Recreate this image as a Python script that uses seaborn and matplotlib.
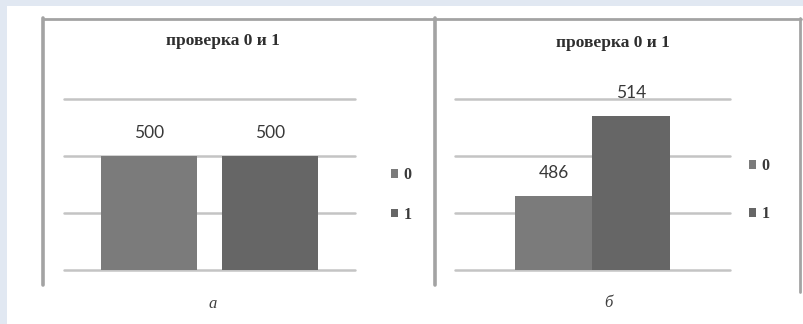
import pandas as pd
import matplotlib
matplotlib.use("Agg")
import matplotlib.pyplot as plt
import seaborn as sns
from matplotlib.lines import Line2D
from matplotlib.patches import Rectangle

# ---- data ----
chart_title = "проверка 0 и 1"
series = ["0", "1"]
values_a = [500, 500]
values_b = [486, 514]
panel_labels = ["а", "б"]
y_ticks = [460, 480, 500, 520]
bar_colors = ["#7b7b7b", "#666666"]

W, H = 804, 324
sns.set_theme(style="white")
plt.rcParams["font.family"] = ["Liberation Serif", "DejaVu Serif"]

fig = plt.figure(figsize=(W / 100, H / 100), dpi=100)
fig.patch.set_facecolor("#e1e8f2")


def fx(x):
    return x / W


def fy(y):
    return 1 - y / H


# white sheet
fig.add_artist(Rectangle((fx(7), 0), 1, fy(6), transform=fig.transFigure,
                         facecolor="white", edgecolor="none", zorder=0))

# frame lines
frame_col = "#a3a3a3"
for xs, ys, lw in [([43, 801], [18.5, 18.5], 2.0),
                   ([43.5, 43.5], [18, 285], 2.6),
                   ([435, 435], [18, 285], 2.6),
                   ([800, 800], [18, 292], 2.0)]:
    fig.add_artist(Line2D([fx(x) for x in xs], [fy(y) for y in ys],
                          transform=fig.transFigure, color=frame_col,
                          lw=lw, zorder=1))


def panel(values, x0, x1, width, gap, title_xy, legend_xy, legend_sp,
          label, label_xy):
    top, bot = 99, 270
    ax = fig.add_axes([fx(x0), fy(bot), fx(x1) - fx(x0), fy(top) - fy(bot)])
    df = pd.DataFrame({"group": ["g", "g"], "series": series, "value": values})
    sns.barplot(data=df, x="group", y="value", hue="series",
                palette=bar_colors, width=width, gap=gap, saturation=1,
                linewidth=0, ax=ax)
    ax.set_xlim(-0.5, 0.5)
    ax.set_ylim(y_ticks[0], y_ticks[-1])
    for t in y_ticks:
        ax.axhline(t, color="#c4c4c4", lw=1.8, zorder=0.5, clip_on=False)
    handles, labels = ax.get_legend_handles_labels()
    ax.get_legend().remove()
    ax.set(xlabel="", ylabel="", xticks=[], yticks=[])
    ax.set_axis_off()

    # value labels above each drawn bar
    for cont in ax.containers:
        for bar in cont:
            v = bar.get_height()
            ax.annotate(f"{v:.0f}", (bar.get_x() + bar.get_width() / 2, v),
                        xytext=(0, 16.5), textcoords="offset points",
                        ha="center", va="center", fontsize=12.5,
                        family="Lato", color="#383838",
                        annotation_clip=False)

    fig.text(fx(title_xy[0]), fy(title_xy[1]), chart_title, ha="center",
             va="center", fontsize=12.5, fontweight="bold", color="#2e2e2e")
    fig.text(fx(label_xy[0]), fy(label_xy[1]), label, ha="center",
             va="center", fontsize=12, style="italic", color="#404040")

    fig.legend(handles, labels, loc="center left",
               bbox_to_anchor=(fx(legend_xy[0]), fy(legend_xy[1])),
               bbox_transform=fig.transFigure, frameon=False,
               handlelength=0.45, handleheight=0.45, handletextpad=0.35,
               labelspacing=legend_sp, borderpad=0, borderaxespad=0,
               prop=dict(family="Liberation Serif", weight="bold", size=11.5),
               labelcolor="#3a3a3a")
    return ax


panel(values_a, 64, 355, 0.832, 0.2, (223, 41), (391, 195), 1.45,
      panel_labels[0], (213, 304))
panel(values_b, 455, 730, 0.564, 0.0, (613, 43), (749, 190), 2.0,
      panel_labels[1], (608, 303))

fig.savefig("out.png", dpi=100, facecolor=fig.get_facecolor())
